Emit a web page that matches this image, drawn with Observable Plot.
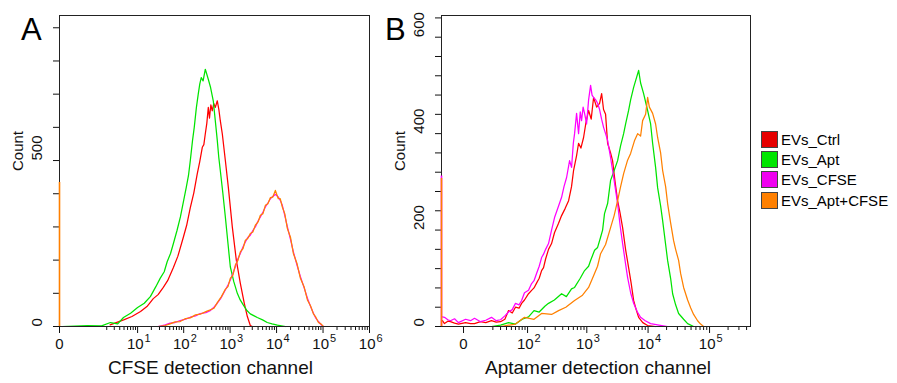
<!DOCTYPE html>
<html><head><meta charset="utf-8">
<script src="https://cdn.jsdelivr.net/npm/d3@7"></script>
<script src="https://cdn.jsdelivr.net/npm/@observablehq/plot@0.6"></script>
<style>
html,body{margin:0;padding:0;background:#fff;}
body{font-family:"Liberation Sans",Arial,sans-serif;}
#wrap{position:relative;width:897px;height:383px;overflow:hidden;background:#fff;}
.panel{position:absolute;top:0;}
.panel svg{overflow:visible;}
.letter{position:absolute;top:14px;font-size:31px;line-height:1;color:#000;}
#legend{position:absolute;left:761px;top:129px;font-size:15px;color:#000;}
.row{display:flex;align-items:center;height:20.3px;white-space:nowrap;}
.sw{width:17px;height:17px;border:1px solid #444;box-sizing:border-box;margin-right:3px;flex:none;}
</style></head>
<body>
<div id="wrap">
  <div class="panel" id="pa" style="left:0"></div>
  <div class="panel" id="pb" style="left:380px"></div>
  <div class="letter" style="left:21px">A</div>
  <div class="letter" style="left:385px">B</div>
  <div id="legend"></div>
</div>
<script>
const seriesNames = ["EVs_Ctrl", "EVs_Apt", "EVs_CFSE", "EVs_Apt+CFSE"];
const seriesColors = ["#ff0000", "#00e400", "#ff00ff", "#ff8000"];
const legendColors = ["#e60000", "#00e600", "#f000f0", "#ff8000"];

// ---------- Panel A: CFSE detection channel ----------
const aCtrlX = [2.4, 4.9, 7.5, 11.6, 16, 22, 28, 36, 45, 60, 75, 98, 116, 139, 165, 196, 222, 252, 272, 292, 315, 339, 360, 385, 413, 445, 480, 530, 575, 615, 680, 790, 915, 1115, 1360, 1660, 2020, 2350, 2720, 3000];
const aCtrlY = [5, 20, 30, 45, 60, 84, 96, 117, 138, 178, 212, 268, 305, 358, 402, 460, 497, 540, 548, 580, 612, 660, 628, 668, 650, 672, 660, 680, 652, 620, 580, 500, 420, 300, 200, 130, 70, 30, 3, 0];
const aAptX = [0.03, 0.64, 1.5, 2.45, 3.6, 4.86, 7, 10, 14, 19, 25, 31, 38, 44, 52, 60, 72, 85, 100, 114, 127, 139, 155, 169, 188, 206, 222, 239, 262, 292, 315, 339, 380, 434, 480, 530, 570, 615, 700, 790, 900, 1010, 1200, 1430, 1650, 1920, 2300, 2720, 3300, 3850, 5000, 6300, 8000, 10400, 15500];
const aAptY = [0, 3, 2, 12, 8, 27, 40, 57, 70, 90, 120, 145, 165, 195, 220, 250, 290, 330, 380, 420, 455, 500, 560, 600, 660, 700, 730, 750, 740, 775, 760, 745, 720, 680, 620, 560, 510, 470, 400, 330, 250, 180, 135, 100, 80, 65, 48, 38, 32, 27, 20, 12, 8, 4, 0];
const aCfseX = [28, 40, 51, 65, 84, 110, 139, 180, 228, 300, 374, 450, 530, 650, 788, 900, 1010, 1150, 1295, 1480, 1660, 1900, 2130, 2400, 2720, 3100, 3490, 4000, 4480, 5100, 5740, 6500, 7350, 8300, 9420, 10900, 12000, 13300, 15000, 17100, 20000, 23000, 27500, 32600, 39000, 46100, 54000, 62100, 70000, 79600, 90000, 102000];
const aCfseY = [0, 5, 10, 12, 18, 22, 28, 32, 39, 42, 48, 58, 70, 88, 110, 125, 140, 160, 180, 205, 220, 240, 255, 268, 275, 290, 300, 318, 330, 345, 360, 372, 385, 392, 398, 390, 380, 365, 335, 300, 262, 225, 185, 150, 118, 85, 60, 40, 25, 15, 6, 0];
const aAptCfseY = [0, 3, 8, 14, 15, 24, 26, 35, 37, 45, 50, 55, 72, 90, 112, 120, 145, 155, 185, 200, 225, 235, 260, 265, 280, 285, 305, 315, 335, 340, 365, 370, 388, 390, 410, 385, 385, 360, 340, 295, 268, 220, 190, 145, 120, 80, 62, 38, 28, 12, 8, 0];
const aZeroBin = [{x: 0, y: 434, series: "EVs_Apt+CFSE"}];
const aXDomain = [0, 1e6];
const aYDomain = [0, 937];
const aYTicks = [0, 100, 200, 300, 400, 500, 600, 700, 800, 900];
const aYLabels = [0, 500];
const aMajor = [0, 10, 100, 1e3, 1e4, 1e5, 1e6];
const aMajorBase = ["0", "10", "10", "10", "10", "10", "10"];
const aMajorExp = ["", "1", "2", "3", "4", "5", "6"];
const aTitle = "CFSE detection channel";

// ---------- Panel B: Aptamer detection channel ----------
const bCtrlX = [-12, -10.4, -8, -6.3, -4, -2.1, 0.8, 3, 5.1, 8.9, 13, 18.5, 24, 30, 37, 44, 52, 60, 70, 78, 88, 104, 118, 130, 144, 160, 176, 190, 206, 231, 260, 292, 341, 383, 440, 501, 560, 606, 680, 732, 800, 885, 960, 1070, 1180, 1292, 1450, 1620, 1750, 1880, 2030, 2190, 2450, 2640, 2900, 3190, 3500, 3850, 4300, 4820, 5300, 5820, 6400, 7020, 8200, 9830, 13260];
const bCtrlY = [12, 6, 11, 10, 7, 5, 8, 6, 6, 10, 8, 12, 9, 10, 15, 33, 28, 40, 38, 48, 55, 68, 75, 80, 90, 100, 116, 122, 140, 160, 172, 195, 214, 230, 245, 261, 290, 324, 355, 380, 370, 392, 420, 448, 430, 475, 455, 463, 483, 450, 440, 380, 360, 344, 300, 261, 235, 205, 160, 122, 90, 54, 35, 19, 8, 2, 0];
const bAptX = [18.5, 30, 44, 60, 80, 104, 130, 160, 200, 231, 290, 383, 460, 560, 629, 780, 919, 1070, 1154, 1341, 1503, 1682, 1814, 1950, 2190, 2450, 2740, 3190, 3570, 4000, 4310, 4820, 5200, 5820, 6270, 7020, 7560, 8460, 9830, 11000, 11860, 13260, 14300, 16000, 17240, 19300, 20790, 23270, 25080, 28060, 31390, 37860, 43980, 55030];
const bAptY = [0, 3, 8, 5, 15, 20, 33, 30, 42, 48, 55, 68, 62, 78, 81, 100, 116, 125, 137, 158, 164, 185, 200, 234, 255, 303, 320, 344, 375, 400, 420, 448, 470, 496, 510, 531, 505, 483, 448, 420, 380, 330, 288, 250, 220, 170, 137, 100, 68, 45, 27, 15, 6, 0];
const bCfseX = [-12, -10.4, -8, -6.3, -4, -2.1, 0.8, 3, 5.1, 8.9, 13, 18.5, 24, 30, 37, 44, 52, 60, 70, 78, 88, 104, 118, 130, 144, 160, 176, 190, 206, 231, 260, 292, 341, 383, 420, 464, 520, 561, 600, 629, 679, 732, 780, 820, 870, 919, 992, 1070, 1154, 1220, 1292, 1400, 1503, 1620, 1747, 1883, 2030, 2190, 2450, 2640, 2900, 3190, 3500, 3850, 4300, 4640, 5200, 5820, 6700, 7560, 9000, 11000, 15000, 20790];
const bCfseY = [20, 19, 14, 12, 16, 8, 15, 12, 17, 10, 13, 19, 12, 14, 22, 30, 35, 48, 45, 54, 70, 75, 89, 95, 110, 125, 143, 150, 160, 172, 200, 226, 250, 268, 290, 309, 344, 330, 380, 400, 442, 400, 445, 427, 455, 442, 420, 470, 500, 480, 475, 470, 463, 450, 430, 413, 400, 386, 350, 324, 290, 255, 210, 172, 130, 102, 70, 48, 30, 19, 12, 6, 3, 0];
const bAptCfseX = [30, 60, 88, 130, 176, 260, 341, 450, 629, 850, 1070, 1292, 1500, 1682, 2030, 2450, 2800, 3190, 3570, 4000, 4640, 5200, 6000, 6760, 7560, 8150, 9120, 9830, 10500, 11860, 13260, 14300, 16000, 17240, 19300, 20790, 23270, 26030, 28060, 31390, 33830, 37860, 43980, 49200, 55030, 63930, 71500, 80020];
const bAptCfseY = [0, 5, 19, 15, 27, 25, 33, 40, 54, 65, 81, 105, 125, 151, 170, 205, 230, 261, 290, 317, 345, 359, 385, 400, 395, 427, 440, 475, 455, 442, 420, 392, 360, 324, 290, 255, 215, 178, 160, 137, 110, 81, 55, 39, 25, 12, 5, 0];
const bMinBin = [{x: -12.8, y: 312, series: "EVs_CFSE"}, {x: -12.8, y: 307, series: "EVs_Apt+CFSE"}];
const bXDomain = [-12.8, 463000];
const bYDomain = [0, 645];
const bYTicks = [0, 40, 80, 120, 160, 200, 240, 280, 320, 360, 400, 440, 480, 520, 560, 600, 640];
const bYLabels = [0, 200, 400, 600];
const bMajor = [0, 100, 1e3, 1e4, 1e5];
const bMajorBase = ["0", "10", "10", "10", "10"];
const bMajorExp = ["", "2", "3", "4", "5"];
const bTitle = "Aptamer detection channel";

// ---------- helpers ----------
function rows(xs, ys, name) { return xs.map((x, i) => ({x, y: ys[i], series: name})); }
function minorTicks(lo, hi) {
  const out = [];
  for (let e = -1; e <= 6; e++) for (let m = 2; m <= 9; m++) {
    const v = m * Math.pow(10, e);
    if (v >= lo && v <= hi) out.push(v);
  }
  if (lo < 0) out.push(-10);
  return out;
}

function panel({xScale, yDomain, yTicks, yLabels, lines, spikes, major, base, exp, minors, title, marginLeft, marginRight, titleDx}) {
  const majIdx = major.map((v, i) => i);
  const zeroIdx = majIdx.filter(i => major[i] === 0);
  const powIdx = majIdx.filter(i => major[i] !== 0);
  return Plot.plot({
    width: 380, height: 383,
    marginLeft, marginRight, marginTop: 15, marginBottom: 57,
    style: {fontFamily: "'Liberation Sans', Arial, sans-serif", background: "transparent", color: "#111", overflow: "visible"},
    x: xScale,
    y: {domain: yDomain},
    color: {domain: seriesNames, range: seriesColors},
    marks: [
      Plot.axisY({ticks: yTicks, tickSize: 6, tickFormat: () => "", label: null}),
      Plot.axisX({ticks: minors, tickSize: 4, tickFormat: () => "", label: null}),
      Plot.axisX({ticks: major, tickSize: 7, tickFormat: () => "", label: null}),
      Plot.line(lines, {x: "x", y: "y", z: "series", stroke: "series", strokeWidth: 1.25}),
      Plot.frame({stroke: "#222"}),
      Plot.ruleX(spikes, {x: "x", y1: 0, y2: "y", stroke: "series", strokeWidth: 1.6}),
      Plot.text(yLabels, {y: d => d, frameAnchor: "left", dx: -22, rotate: -90, text: d => String(d), fontSize: 15}),
      Plot.text(["Count"], {frameAnchor: "left", dx: -41, rotate: -90, fontSize: 15}),
      Plot.text(zeroIdx, {x: i => major[i], text: i => base[i], frameAnchor: "bottom", dy: 22, fontSize: 15}),
      Plot.text(powIdx, {x: i => major[i], text: i => base[i], frameAnchor: "bottom", dy: 22, dx: 6, textAnchor: "end", fontSize: 15}),
      Plot.text(powIdx, {x: i => major[i], text: i => exp[i], frameAnchor: "bottom", dy: 15, dx: 7, textAnchor: "start", fontSize: 11}),
      Plot.text([title], {frameAnchor: "bottom", dy: 47, dx: titleDx, fontSize: 19})
    ]
  });
}

const aLines = [].concat(
  rows(aCtrlX, aCtrlY, "EVs_Ctrl"),
  rows(aAptX, aAptY, "EVs_Apt"),
  rows(aCfseX, aCfseY, "EVs_CFSE"),
  rows(aCfseX, aAptCfseY, "EVs_Apt+CFSE")
);
const bLines = [].concat(
  rows(bCtrlX, bCtrlY, "EVs_Ctrl"),
  rows(bAptX, bAptY, "EVs_Apt"),
  rows(bCfseX, bCfseY, "EVs_CFSE"),
  rows(bAptCfseX, bAptCfseY, "EVs_Apt+CFSE")
);

document.getElementById("pa").append(panel({
  xScale: {type: "symlog", constant: 0.213, domain: aXDomain},
  yDomain: aYDomain, yTicks: aYTicks, yLabels: aYLabels,
  lines: aLines, spikes: aZeroBin,
  major: aMajor, base: aMajorBase, exp: aMajorExp, minors: minorTicks(1, 1e6),
  title: aTitle, marginLeft: 59, marginRight: 11, titleDx: -4
}));
document.getElementById("pb").append(panel({
  xScale: {type: "symlog", constant: 10, domain: bXDomain},
  yDomain: bYDomain, yTicks: bYTicks, yLabels: bYLabels,
  lines: bLines, spikes: bMinBin,
  major: bMajor, base: bMajorBase, exp: bMajorExp, minors: minorTicks(10, 4.6e5),
  title: bTitle, marginLeft: 61, marginRight: 10, titleDx: 2
}));

const legend = document.getElementById("legend");
seriesNames.forEach((name, i) => {
  const row = document.createElement("div");
  row.className = "row";
  const sw = document.createElement("div");
  sw.className = "sw";
  sw.style.background = legendColors[i];
  const label = document.createElement("span");
  label.textContent = name;
  row.append(sw, label);
  legend.append(row);
});
</script>
</body></html>
